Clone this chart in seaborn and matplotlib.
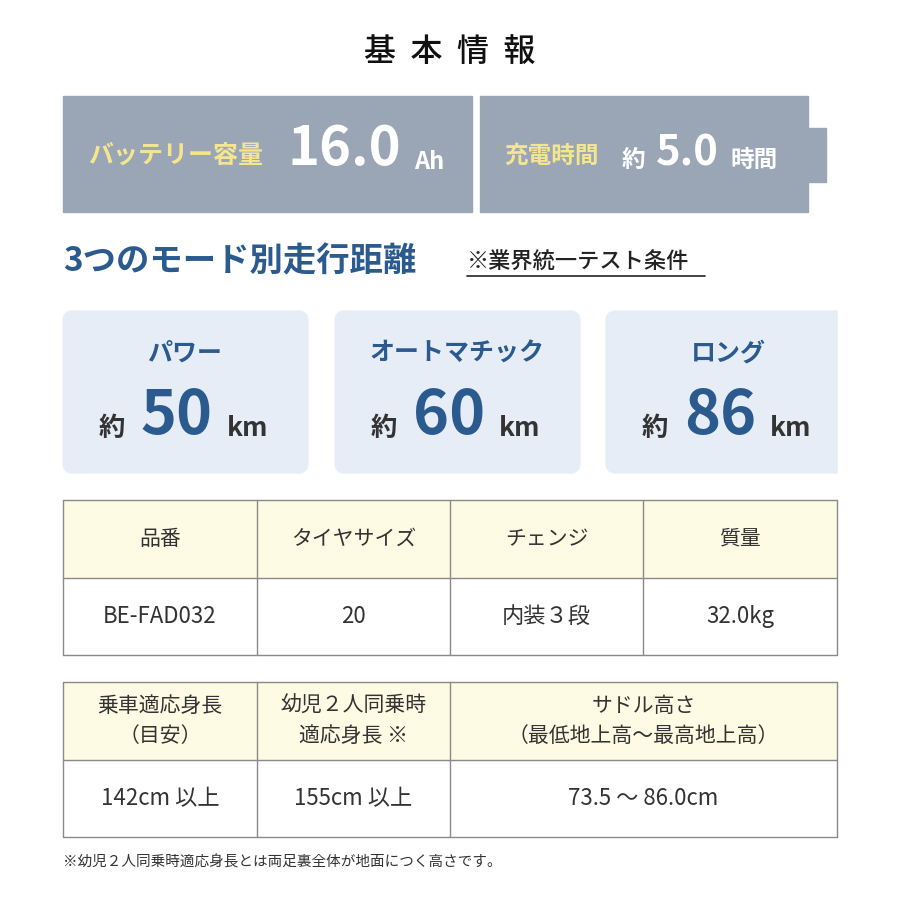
import matplotlib
matplotlib.use("Agg")
import matplotlib.pyplot as plt
import seaborn as sns
from matplotlib.patches import Rectangle, FancyBboxPatch

sns.set_theme(style="white")
plt.rcParams['font.family'] = ['Noto Sans CJK JP', 'DejaVu Sans']

# data
title = "基本情報"
battery_label, battery_value, battery_unit = "バッテリー容量", "16.0", "Ah"
charge_label, charge_value, charge_unit = "充電時間", "5.0", "時間"
modes = ["パワー", "オートマチック", "ロング"]
distances = [50, 60, 86]
spec_headers = ["品番", "タイヤサイズ", "チェンジ", "質量"]
spec_values = ["BE-FAD032", "20", "内装３段", "32.0kg"]
size_headers = ["乗車適応身長\n（目安）", "幼児２人同乗時\n適応身長 ※", "サドル高さ\n（最低地上高〜最高地上高）"]
size_values = ["142cm 以上", "155cm 以上", "73.5 〜 86.0cm"]
footnote = "※幼児２人同乗時適応身長とは両足裏全体が地面につく高さです。"

GRAY = "#9aa5b5"
YELLOW = "#f3e68f"
BLUE = "#2b5a8e"
CARD = "#e7edf7"
CREAM = "#fdfbe3"
LINE = "#8a8a8a"
DARK = "#333333"

fig = plt.figure(figsize=(9, 9), dpi=100)
ax = fig.add_axes([0, 0, 1, 1])
ax.set_xlim(0, 900)
ax.set_ylim(900, 0)
ax.axis("off")

ax.text(450, 52, "  ".join(title), ha="center", va="center", fontsize=23,
        color="#111111", weight="medium")

# battery
ax.add_patch(Rectangle((63, 96), 409, 116, color=GRAY))
ax.add_patch(Rectangle((480, 96), 328, 116, color=GRAY))
ax.add_patch(Rectangle((808, 128), 18, 54, color=GRAY))
ax.text(88, 156, battery_label, ha="left", va="center", fontsize=18, color=YELLOW, weight="bold")
ax.text(288, 150, battery_value, ha="left", va="center", fontsize=39, color="white", weight="bold")
ax.text(414, 162, battery_unit, ha="left", va="center", fontsize=17, color="white", weight="bold")
ax.text(504, 156, charge_label, ha="left", va="center", fontsize=17, color=YELLOW, weight="bold")
ax.text(622, 160, "約", ha="left", va="center", fontsize=17, color="white", weight="bold")
ax.text(656, 154, charge_value, ha="left", va="center", fontsize=30, color="white", weight="bold")
ax.text(730, 160, charge_unit, ha="left", va="center", fontsize=17, color="white", weight="bold")

# modes
ax.text(63, 262, "3つのモード別走行距離", ha="left", va="center", fontsize=24, color=BLUE, weight="bold")
ax.text(467, 262, "※業界統一テスト条件", ha="left", va="center", fontsize=16,
        color="#222222", weight="medium")
ax.plot([467, 705], [276, 276], color="#222222", lw=1.2)

card_x = [63, 335, 606]
for x0, name, d in zip(card_x, modes, distances):
    w = 245 if x0 < 600 else 260
    ax.add_patch(FancyBboxPatch((x0 + 8, 319), w - 16, 146,
                                boxstyle="round,pad=8,rounding_size=10", color=CARD))
    cx = x0 + 122
    ax.text(cx, 354, name, ha="center", va="center", fontsize=18, color=BLUE, weight="bold")
    ax.text(cx - 8, 416, str(d), ha="center", va="center", fontsize=44, color=BLUE, weight="bold")
    ax.text(cx - 73, 428, "約", ha="center", va="center", fontsize=19, color=DARK, weight="bold")
    ax.text(cx + 42, 428, "km", ha="left", va="center", fontsize=19, color=DARK, weight="bold")
ax.add_patch(Rectangle((838, 300), 62, 190, color="white", zorder=5))


def table(cols, y0, y1, y2, headers, values):
    ax.add_patch(Rectangle((cols[0], y0), cols[-1] - cols[0], y1 - y0, color=CREAM))
    for y in (y0, y1, y2):
        ax.plot([cols[0], cols[-1]], [y, y], color=LINE, lw=1)
    for x in cols:
        ax.plot([x, x], [y0, y2], color=LINE, lw=1)
    for i, (h, v) in enumerate(zip(headers, values)):
        cx = (cols[i] + cols[i + 1]) / 2
        ax.text(cx, (y0 + y1) / 2, h, ha="center", va="center", fontsize=15,
                color=DARK, linespacing=1.5)
        ax.text(cx, (y1 + y2) / 2, v, ha="center", va="center", fontsize=16, color=DARK)


table([63, 257, 450, 643, 837], 500, 578, 655, spec_headers, spec_values)
table([63, 257, 450, 837], 682, 760, 837, size_headers, size_values)

ax.text(63, 862, footnote, ha="left", va="center", fontsize=10.5, color=DARK)

fig.savefig("out.png", dpi=100)
